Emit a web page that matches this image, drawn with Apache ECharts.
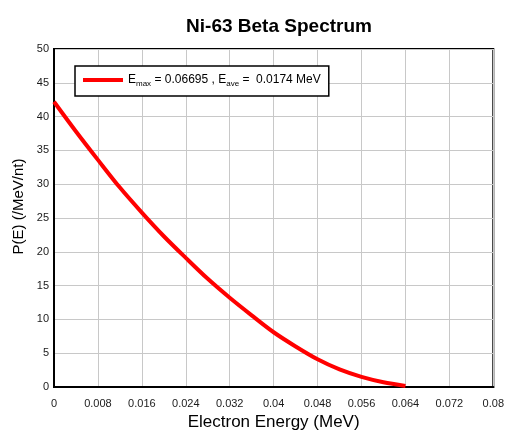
<!DOCTYPE html>
<html>
<head>
<meta charset="utf-8">
<script src="https://cdn.jsdelivr.net/npm/echarts@6/dist/echarts.min.js"></script>
<style>
  html, body { margin: 0; padding: 0; background: #fff; }
  #chart { width: 507px; height: 436px; }
</style>
</head>
<body>
<div id="chart"></div>
<script>
// Ni-63 beta spectrum: probability density vs electron energy
const energyMeV = [0, 0.004, 0.008, 0.012, 0.016, 0.020, 0.024, 0.028, 0.032,
                   0.036, 0.040, 0.044, 0.048, 0.052, 0.056, 0.060, 0.064];
const probability = [42.2, 37.8, 33.6, 29.5, 25.8, 22.3, 19.1, 16.0, 13.2,
                     10.6, 8.1, 6.0, 4.1, 2.6, 1.5, 0.7, 0.15];

const xTicks = { min: 0, max: 0.08, interval: 0.008 };
const yTicks = { min: 0, max: 50, interval: 5 };

const fontFamily = '"Liberation Sans", Arial, sans-serif';
const chart = echarts.init(document.getElementById('chart'));

const points = energyMeV.map((e, i) => [e, probability[i]]);

chart.setOption({
  animation: false,
  backgroundColor: '#ffffff',
  textStyle: { fontFamily: fontFamily },
  title: {
    text: 'Ni-63 Beta Spectrum',
    left: 274,
    textAlign: 'center',
    top: 12,
    textStyle: { fontSize: 19, fontWeight: 'bold', color: '#000', fontFamily: fontFamily }
  },
  grid: { left: 54, right: 13, top: 49, bottom: 44, containLabel: false,
          show: true, borderColor: '#000', borderWidth: 2 },
  legend: {
    left: 75, top: 66,
    width: 254, height: 31,
    padding: [8, 8, 8, 8],
    backgroundColor: '#fff',
    borderColor: '#000',
    borderWidth: 1.5,
    borderRadius: 0,
    itemWidth: 40,
    itemHeight: 14,
    itemGap: 0,
    data: [{ name: 'spectrum', icon: 'path://M0,0 L40,0 L40,4 L0,4 Z' }],
    formatter: () => '{n|E}{s|max}{n| = 0.06695 , E}{s|ave}{n| =  0.0174 MeV}',
    textStyle: {
      rich: {
        n: { fontSize: 12, color: '#000', fontFamily: fontFamily },
        s: { fontSize: 8, color: '#000', fontFamily: fontFamily, padding: [8, 0, 0, 0] }
      }
    }
  },
  xAxis: {
    type: 'value',
    min: xTicks.min, max: xTicks.max, interval: xTicks.interval,
    name: 'Electron Energy (MeV)',
    nameLocation: 'middle',
    nameGap: 27,
    nameTextStyle: { fontSize: 17, color: '#000', fontFamily: fontFamily },
    axisLine: { show: true, onZero: false, lineStyle: { color: '#000', width: 2 } },
    axisTick: { show: false },
    axisLabel: { fontSize: 11, color: '#1a1a1a', margin: 11,
                 formatter: v => String(parseFloat(v.toFixed(3))) },
    splitLine: { show: true, lineStyle: { color: '#c8c8c8', width: 1 } }
  },
  yAxis: {
    type: 'value',
    min: yTicks.min, max: yTicks.max, interval: yTicks.interval,
    name: 'P(E) (/MeV/nt)',
    nameLocation: 'middle',
    nameGap: 24,
    nameTextStyle: { fontSize: 15, color: '#000', fontFamily: fontFamily,
                     padding: [0, 0, 0, 23] },
    axisLine: { show: true, lineStyle: { color: '#000', width: 2 } },
    axisTick: { show: false },
    axisLabel: { fontSize: 11, color: '#1a1a1a', margin: 5 },
    splitLine: { show: true, lineStyle: { color: '#c8c8c8', width: 1 } }
  },
  series: [{
    name: 'spectrum',
    type: 'line',
    data: points,
    smooth: 0.3,
    showSymbol: false,
    symbol: 'none',
    itemStyle: { color: '#ff0000' },
    lineStyle: { color: '#ff0000', width: 4 }
  }]
});
</script>
</body>
</html>
